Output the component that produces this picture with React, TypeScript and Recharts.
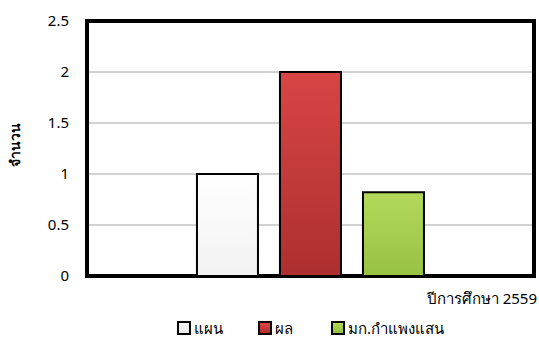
import { Bar, BarChart, CartesianGrid, Legend, ReferenceArea, XAxis, YAxis } from "recharts"

const categories = ["ปีการศึกษา 2559"]
const planValues = [1]
const resultValues = [2]
const campusValues = [0.82]
const yTicks = [0, 0.5, 1, 1.5, 2, 2.5]

const series = [
  { key: "plan", name: "แผน", grad: "gradPlan", top: "#ffffff", bottom: "#e8e8e8" },
  { key: "result", name: "ผล", grad: "gradResult", top: "#e04848", bottom: "#b02c2c" },
  { key: "campus", name: "มก.กำแพงแสน", grad: "gradCampus", top: "#b5db5a", bottom: "#8fbb3a" },
]

const data = categories.map((year, i) => ({
  year,
  plan: planValues[i],
  result: resultValues[i],
  campus: campusValues[i],
}))

const FONT = "Tahoma, 'Noto Sans', sans-serif"

// legend items sit at fixed x positions under the plot; zero height so the plot keeps its size
function LegendRow() {
  const xs = [177, 258, 331]
  return (
    <div style={{ position: "relative", height: 0, fontFamily: FONT, fontSize: 15, lineHeight: "18px", color: "#000" }}>
      {series.map((s, i) => (
        <div key={s.key} style={{ position: "absolute", left: xs[i], top: 0, display: "flex", alignItems: "center" }}>
          <svg width={14} height={14} style={{ marginRight: 3 }}>
            <defs>
              <linearGradient id={`${s.grad}L`} x1="0" y1="0" x2="0" y2="1">
                <stop offset="0%" stopColor={s.top} />
                <stop offset="100%" stopColor={s.bottom} />
              </linearGradient>
            </defs>
            <rect x={1} y={1} width={12} height={12} fill={`url(#${s.grad}L)`} stroke="#000" strokeWidth={2} />
          </svg>
          <span>{s.name}</span>
        </div>
      ))}
    </div>
  )
}

export default function App() {
  return (
    <div style={{ position: "absolute", left: 0, top: 0, width: 539, height: 340, background: "#fff" }}>
      <BarChart
        width={539}
        height={340}
        data={data}
        margin={{ top: 21, right: 5, bottom: 34, left: 0 }}
        barCategoryGap="24.6%"
        barGap={22}
      >
        <defs>
          <linearGradient id="gradPlan" x1="0" y1="0" x2="0" y2="1">
            <stop offset="0%" stopColor="#ffffff" />
            <stop offset="100%" stopColor="#f2f2f2" />
          </linearGradient>
          <linearGradient id="gradResult" x1="0" y1="0" x2="0" y2="1">
            <stop offset="0%" stopColor="#d84545" />
            <stop offset="100%" stopColor="#ad2f2f" />
          </linearGradient>
          <linearGradient id="gradCampus" x1="0" y1="0" x2="0" y2="1">
            <stop offset="0%" stopColor="#b3d95a" />
            <stop offset="100%" stopColor="#98c244" />
          </linearGradient>
        </defs>
        <CartesianGrid vertical={false} stroke="#a6a6a6" strokeWidth={1} />
        <XAxis
          dataKey="year"
          height={30}
          tick={false}
          axisLine={false}
          tickLine={false}
          label={() => (
            <text x={537} y={304} textAnchor="end" fontFamily={FONT} fontSize={15} fill="#000">
              {categories[0]}
            </text>
          )}
        />
        <YAxis
          width={87}
          domain={[0, 2.5]}
          ticks={yTicks}
          axisLine={false}
          tickLine={false}
          tick={{ fontFamily: FONT, fontSize: 15, fill: "#000", dx: -10 }}
          label={() => (
            <text
              x={20}
              y={145}
              transform="rotate(-90 20 145)"
              textAnchor="middle"
              fontFamily={FONT}
              fontSize={14}
              fontWeight="bold"
              fill="#000"
            >
              จำนวน
            </text>
          )}
        />
        {series.map((s) => (
          <Bar
            key={s.key}
            dataKey={s.key}
            name={s.name}
            fill={`url(#${s.grad})`}
            stroke="#000"
            strokeWidth={2}
            isAnimationActive={false}
          />
        ))}
        <ReferenceArea y1={0} y2={2.5} fill="none" stroke="#000" strokeWidth={4} ifOverflow="visible" />
        <Legend
          content={() => <LegendRow />}
          height={0}
          wrapperStyle={{ left: 0, top: 319, width: 539, height: 0 }}
        />
      </BarChart>
    </div>
  )
}
